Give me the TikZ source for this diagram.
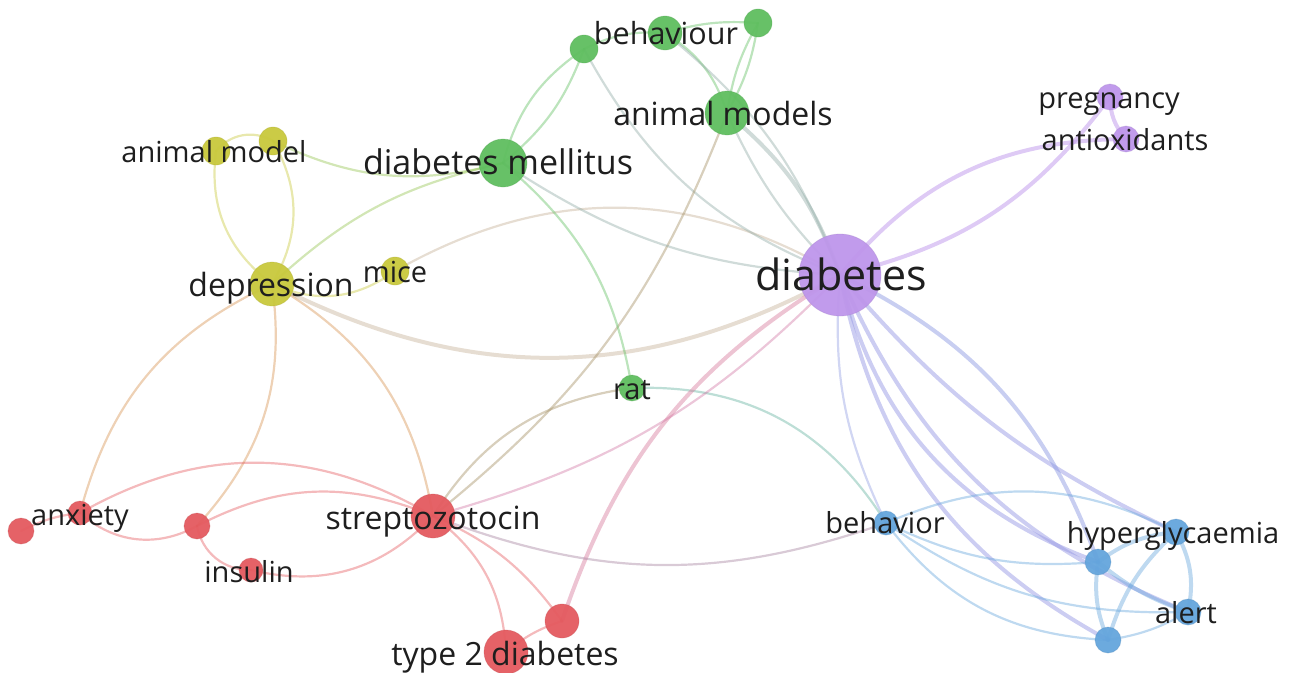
\documentclass[tikz,border=0pt]{standalone}
\usepackage{fontspec}
\setmainfont{Open Sans}
\definecolor{yel}{RGB}{200,200,60}
\definecolor{grn}{RGB}{95,190,95}
\definecolor{pur}{RGB}{190,150,235}
\definecolor{rd}{RGB}{228,90,95}
\definecolor{blu}{RGB}{100,165,220}
\definecolor{txt}{RGB}{30,30,30}
\pgfdeclarelayer{bg}
\pgfsetlayers{bg,main}
\tikzset{
  ed/.style={line width=2.2pt, draw opacity=0.42, line cap=round},
  thk/.style={line width=4pt},
  vn/.style={circle, inner sep=0pt, minimum size=#1},
  lb/.style={inner sep=0pt, text=txt, anchor=base}
}
\newcommand\vnode[5]{\node[vn=#4*2pt, fill=#5, fill opacity=0.95, draw=#5!85!black, draw opacity=0.3, line width=0.8pt] (#1) at (#2,-#3) {};}
\begin{document}
\begin{tikzpicture}[x=1pt,y=1pt]
\useasboundingbox (0,0) rectangle (1292,-672);
\vnode{am1}{216}{151}{14}{yel}
\vnode{am2}{273}{141}{14}{yel}
\vnode{dep}{272}{284}{22}{yel}
\vnode{mice}{395}{271}{14}{yel}
\vnode{dm}{503}{163}{24}{grn}
\vnode{g1}{584}{49}{14}{grn}
\vnode{bhv}{665}{33}{17}{grn}
\vnode{g3}{758}{23}{14}{grn}
\vnode{amods}{727}{113}{22}{grn}
\vnode{rat}{632}{388}{13}{grn}
\vnode{diab}{840}{275}{41}{pur}
\vnode{preg}{1110}{97}{13}{pur}
\vnode{anti}{1126}{139}{13}{pur}
\vnode{anx}{80}{513}{12}{rd}
\vnode{rfar}{21}{531}{13}{rd}
\vnode{rmid}{197}{526}{13}{rd}
\vnode{ins}{251}{570}{12}{rd}
\vnode{strep}{433}{516}{22}{rd}
\vnode{tt}{506}{652}{22}{rd}
\vnode{rtt}{562}{621}{17}{rd}
\vnode{behav}{886}{523}{12}{blu}
\vnode{hyp}{1176}{532}{13}{blu}
\vnode{bb}{1098}{562}{13}{blu}
\vnode{alert}{1188}{612}{13}{blu}
\vnode{bd}{1108}{640}{13}{blu}
\begin{pgfonlayer}{bg}
% yellow
\draw[ed,yel] (am1.center) to[bend left=40] (am2.center);
\draw[ed,yel] (am1.center) to[bend right=30] (dep.center);
\draw[ed,yel] (am2.center) to[bend left=30] (dep.center);
\draw[ed,yel!50!grn] (am2.center) to[bend right=20] (dm.center);
\draw[ed,yel!50!grn] (dep.center) to[bend left=15] (dm.center);
\draw[ed,yel] (dep.center) to[bend right=30] (mice.center);
\draw[ed,yel!50!pur] (mice.center) to[bend left=30] (diab.center);
\draw[ed,thk,yel!50!pur] (dep.center) to[bend right=28] (diab.center);
\draw[ed,yel!50!rd] (dep.center) to[bend right=25] (anx.center);
\draw[ed,yel!50!rd] (dep.center) to[bend left=25] (rmid.center);
\draw[ed,yel!50!rd] (dep.center) to[bend left=25] (strep.center);
% green
\draw[ed,grn] (g1.center) to[bend left=15] (bhv.center);
\draw[ed,grn] (bhv.center) to[bend left=10] (g3.center);
\draw[ed,grn] (dm.center) to[bend left=20] (g1.center);
\draw[ed,grn] (dm.center) to[bend right=15] (g1.center);
\draw[ed,grn!50!pur] (g1.center) to[bend right=20] (diab.center);
\draw[ed,grn] (bhv.center) to[bend left=20] (amods.center);
\draw[ed,grn!50!pur] (bhv.center) to[bend left=15] (diab.center);
\draw[ed,grn] (g3.center) to[bend left=10] (amods.center);
\draw[ed,grn] (g3.center) to[bend right=10] (amods.center);
\draw[ed,thk,grn!50!pur] (amods.center) to[bend left=15] (diab.center);
\draw[ed,grn!50!pur] (amods.center) to[bend right=10] (diab.center);
\draw[ed,grn!50!rd] (amods.center) to[bend left=15] (strep.center);
\draw[ed,grn] (dm.center) to[bend left=20] (rat.center);
\draw[ed,grn!50!pur] (dm.center) to[bend right=15] (diab.center);
\draw[ed,grn!50!rd] (rat.center) to[bend right=25] (strep.center);
\draw[ed,grn!50!blu] (rat.center) to[bend left=30] (behav.center);
% purple
\draw[ed,thk,pur,draw opacity=0.5] (diab.center) to[bend left=25] (anti.center);
\draw[ed,thk,pur,draw opacity=0.5] (diab.center) to[bend right=20] (preg.center);
\draw[ed,thk,pur,draw opacity=0.5] (preg.center) to[bend right=20] (anti.center);
\draw[ed,pur!50!rd] (diab.center) to[bend left=15] (strep.center);
\draw[ed,thk,pur!40!rd] (diab.center) to[bend right=20] (rtt.center);
\draw[ed,pur!50!blu] (diab.center) to[bend right=15] (behav.center);
\draw[ed,thk,pur!60!blu,draw opacity=0.5] (diab.center) to[bend right=25] (bd.center);
\draw[ed,thk,pur!60!blu,draw opacity=0.5] (diab.center) to[bend right=22] (alert.center);
\draw[ed,thk,pur!60!blu,draw opacity=0.5] (diab.center) to[bend right=28] (bb.center);
\draw[ed,thk,pur!60!blu,draw opacity=0.5] (diab.center) to[bend right=12] (hyp.center);
\draw[ed,thk,pur!50!blu,draw opacity=0.5] (diab.center) to[bend left=22] (bb.center);
% red
\draw[ed,rd] (anx.center) to[bend right=10] (rfar.center);
\draw[ed,rd] (anx.center) to[bend right=35] (rmid.center);
\draw[ed,rd] (anx.center) to[bend left=30] (strep.center);
\draw[ed,rd] (rmid.center) to[bend left=25] (strep.center);
\draw[ed,rd] (rmid.center) to[bend right=40] (ins.center);
\draw[ed,rd] (ins.center) to[bend right=30] (strep.center);
\draw[ed,rd] (strep.center) to[bend left=25] (tt.center);
\draw[ed,rd] (strep.center) to[bend left=15] (rtt.center);
\draw[ed,rd] (tt.center) to[bend left=10] (rtt.center);
\draw[ed,rd!50!blu] (strep.center) to[bend right=20] (behav.center);
% blue
\draw[ed,blu] (behav.center) to[bend left=25] (hyp.center);
\draw[ed,blu] (behav.center) to[bend right=15] (bb.center);
\draw[ed,blu] (behav.center) to[bend right=18] (alert.center);
\draw[ed,blu] (behav.center) to[bend right=25] (bd.center);
\draw[ed,thk,blu] (bb.center) to[bend left=15] (hyp.center);
\draw[ed,thk,blu] (bb.center) to[bend right=10] (alert.center);
\draw[ed,thk,blu] (bb.center) to[bend right=15] (bd.center);
\draw[ed,thk,blu] (hyp.center) to[bend left=20] (alert.center);
\draw[ed,thk,blu] (hyp.center) to[bend right=15] (bd.center);
\draw[ed,blu] (alert.center) to[bend left=10] (bd.center);
\end{pgfonlayer}
% labels (anchor = baseline)
\node[lb, font=\fontsize{29}{30}\selectfont] (l-am) at (214,-162) {animal model};
\node[lb, font=\fontsize{34}{36}\selectfont] (l-dm) at (498,-174) {diabetes mellitus};
\node[lb, font=\fontsize{30.5}{32}\selectfont] (l-bhv) at (666,-44) {behaviour};
\node[lb, font=\fontsize{32}{34}\selectfont] (l-amods) at (723,-125) {animal models};
\node[lb, font=\fontsize{32}{34}\selectfont] (l-dep) at (271,-296) {depression};
\node[lb, font=\fontsize{29}{30}\selectfont] (l-mice) at (395,-282) {mice};
\node[lb, font=\fontsize{43}{45}\selectfont] (l-diab) at (841,-290) {diabetes};
\node[lb, font=\fontsize{29}{30}\selectfont] (l-preg) at (1109,-108) {pregnancy};
\node[lb, font=\fontsize{29}{30}\selectfont] (l-anti) at (1125,-150) {antioxidants};
\node[lb, font=\fontsize{29}{30}\selectfont] (l-rat) at (632,-399) {rat};
\node[lb, font=\fontsize{29}{30}\selectfont] (l-anx) at (80,-525) {anxiety};
\node[lb, font=\fontsize{29}{30}\selectfont] (l-ins) at (249,-582) {insulin};
\node[lb, font=\fontsize{32}{34}\selectfont] (l-strep) at (433,-529) {streptozotocin};
\node[lb, font=\fontsize{32}{34}\selectfont] (l-tt) at (505,-665) {type 2 diabetes};
\node[lb, font=\fontsize{29}{30}\selectfont] (l-behav) at (885,-533) {behavior};
\node[lb, font=\fontsize{29}{30}\selectfont] (l-hyp) at (1173,-543) {hyperglycaemia};
\node[lb, font=\fontsize{29}{30}\selectfont] (l-alert) at (1186,-623) {alert};
\end{tikzpicture}
\end{document}
